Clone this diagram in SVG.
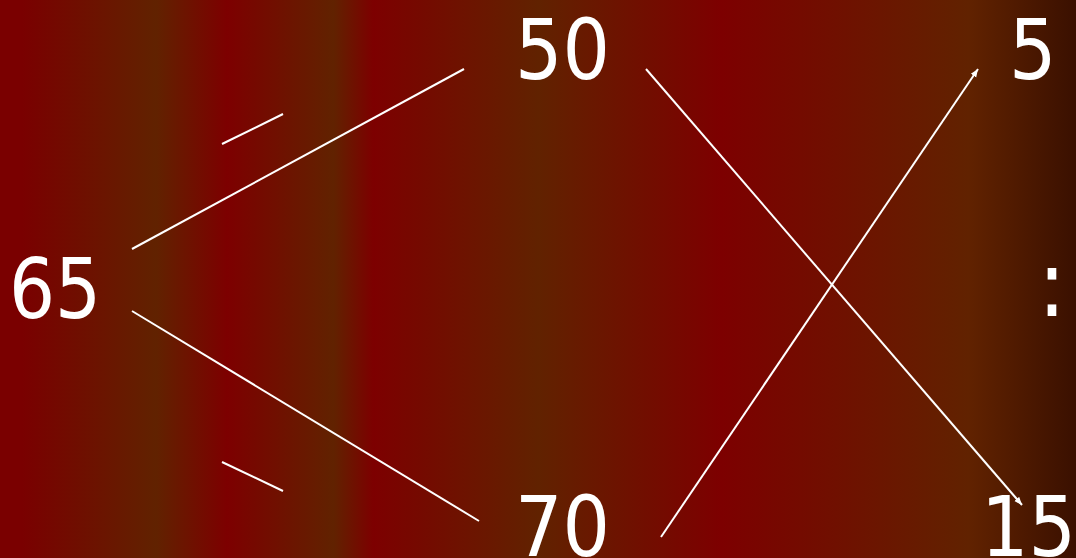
<svg xmlns="http://www.w3.org/2000/svg" width="1076" height="558" viewBox="0 0 1076 558">
<defs>
<linearGradient id="bg" x1="0" y1="0" x2="1076" y2="0" gradientUnits="userSpaceOnUse">
<stop offset="0" stop-color="#7a0000"/>
<stop offset="0.02" stop-color="#7a0000"/>
<stop offset="0.145" stop-color="#612200"/>
<stop offset="0.211" stop-color="#7d0000"/>
<stop offset="0.31" stop-color="#612200"/>
<stop offset="0.347" stop-color="#7d0000"/>
<stop offset="0.5" stop-color="#612200"/>
<stop offset="0.67" stop-color="#7d0000"/>
<stop offset="0.9" stop-color="#612200"/>
<stop offset="1" stop-color="#3a1000"/>
</linearGradient>
<marker id="arr" viewBox="0 0 10 10" refX="10" refY="5" markerWidth="8" markerHeight="8" markerUnits="userSpaceOnUse" orient="auto">
<path d="M0,1 L10,5 L0,9 z" fill="#ffffff"/>
</marker>
<style>
.t{font-family:"DejaVu Sans Condensed","DejaVu Sans",Verdana,sans-serif;font-size:83px;fill:#ffffff}
.c line{stroke:#ffffff;stroke-width:2}
</style>
</defs>
<rect x="0" y="0" width="1076" height="558" fill="url(#bg)"/>
<g id="n65"><text class="t" x="9" y="318" textLength="92" lengthAdjust="spacingAndGlyphs">65</text></g>
<g id="n50"><text class="t" x="515" y="79">50</text></g>
<g id="n70"><text class="t" x="515" y="556">70</text></g>
<g id="n5"><text class="t" x="1009" y="79">5</text></g>
<g id="ncolon"><text class="t" x="1038" y="316" style="font-size:92px">:</text></g>
<g id="n15"><text class="t" x="981" y="556">15</text></g>
<g class="c" id="connectors">
<line x1="132" y1="249" x2="464" y2="69"/>
<line x1="132" y1="311" x2="479" y2="521"/>
<line x1="222" y1="144" x2="283" y2="114"/>
<line x1="222" y1="462" x2="283" y2="491"/>
<line x1="646" y1="69" x2="1022" y2="505" marker-end="url(#arr)"/>
<line x1="661" y1="537" x2="978" y2="69" marker-end="url(#arr)"/>
</g>
</svg>
